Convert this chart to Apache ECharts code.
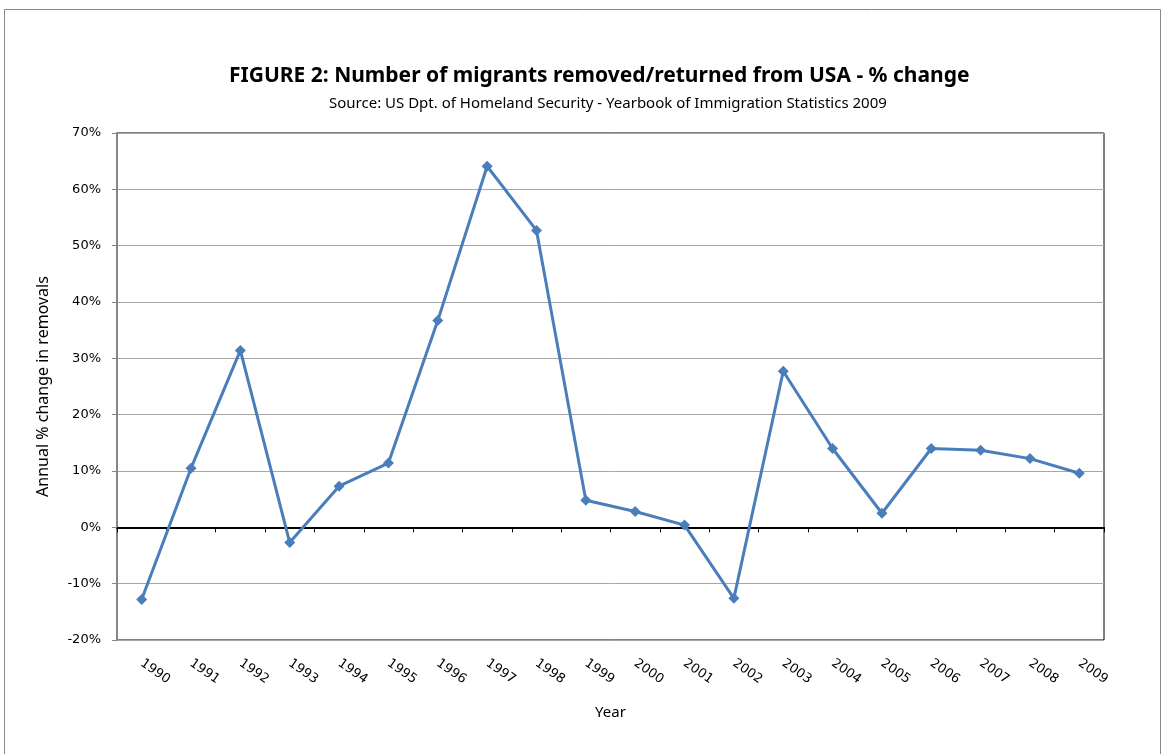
<!DOCTYPE html>
<html>
<head>
<meta charset="utf-8">
<script src="https://cdn.jsdelivr.net/npm/echarts@6/dist/echarts.min.js"></script>
<style>
html, body { margin: 0; padding: 0; background: #fff; }
#container { width: 1166px; height: 754px; }
</style>
</head>
<body>
<div id="container"></div>
<script>
var dom = document.getElementById("container");
var chart = echarts.init(dom);

// years on the x axis
const years = ["1990", "1991", "1992", "1993", "1994", "1995", "1996", "1997", "1998", "1999",
    "2000", "2001", "2002", "2003", "2004", "2005", "2006", "2007", "2008", "2009"];
// annual % change in removals
const changes = [-12.8, 10.5, 31.4, -2.7, 7.3, 11.4, 36.7, 64.1, 52.7, 4.8,
    2.8, 0.4, -12.6, 27.7, 14.0, 2.5, 14.0, 13.7, 12.2, 9.6];

var option = {
    backgroundColor: "#fff",
    animation: false,
    title: [
        {
            text: "FIGURE 2: Number of migrants removed/returned from USA - % change",
            left: 224,
            top: 61,
            textStyle: {
                fontFamily: "Noto Sans",
                fontWeight: "bold",
                fontSize: 21,
                color: "#000",
            },
        },
        {
            text: "Source: US Dpt. of Homeland Security - Yearbook of Immigration Statistics 2009",
            left: 324,
            top: 91,
            textStyle: {
                fontFamily: "Noto Sans",
                fontWeight: "normal",
                fontSize: 15,
                color: "#000",
            },
        },
    ],
    grid: {
        left: 117,
        right: 62,
        top: 133,
        bottom: 114,
        show: true,
        borderColor: "#000",
        borderWidth: 1,
    },
    xAxis: {
        type: "category",
        data: years,
        boundaryGap: true,
        name: "Year",
        nameLocation: "middle",
        nameGap: 65,
        nameTextStyle: { fontFamily: "Noto Sans", fontSize: 15, color: "#000" },
        axisLine: { onZero: true, lineStyle: { color: "#000", width: 2 } },
        axisTick: { show: true, length: 5, lineStyle: { color: "#000" } },
        axisLabel: {
            rotate: -35,
            margin: 22,
            fontFamily: "DejaVu Sans",
            fontSize: 13,
            color: "#000",
        },
    },
    yAxis: {
        type: "value",
        min: -20,
        max: 70,
        interval: 10,
        name: "Annual % change in removals",
        nameLocation: "middle",
        nameGap: 66,
        nameTextStyle: { fontFamily: "Noto Sans", fontSize: 16, color: "#000" },
        axisLine: { show: true, lineStyle: { color: "#868686", width: 2 } },
        axisTick: { show: true, length: 5, lineStyle: { color: "#868686" } },
        axisLabel: {
            formatter: "{value}%",
            margin: 16,
            fontFamily: "DejaVu Sans",
            fontSize: 13,
            color: "#000",
        },
        splitLine: { lineStyle: { color: "#a6a6a6", width: 1 } },
    },
    series: [
        {
            type: "line",
            data: changes,
            symbol: "diamond",
            symbolSize: 11,
            lineStyle: { color: "#4a7ebb", width: 3 },
            itemStyle: { color: "#4a7ebb" },
            z: 5,
        },
    ],
    graphic: {
        elements: [
            {
                type: "rect",
                shape: { x: 4.5, y: 9.5, width: 1156, height: 760 },
                style: { fill: "none", stroke: "#888", lineWidth: 1 },
                silent: true,
            },
        ],
    },
};

chart.setOption(option);
</script>
</body>
</html>
